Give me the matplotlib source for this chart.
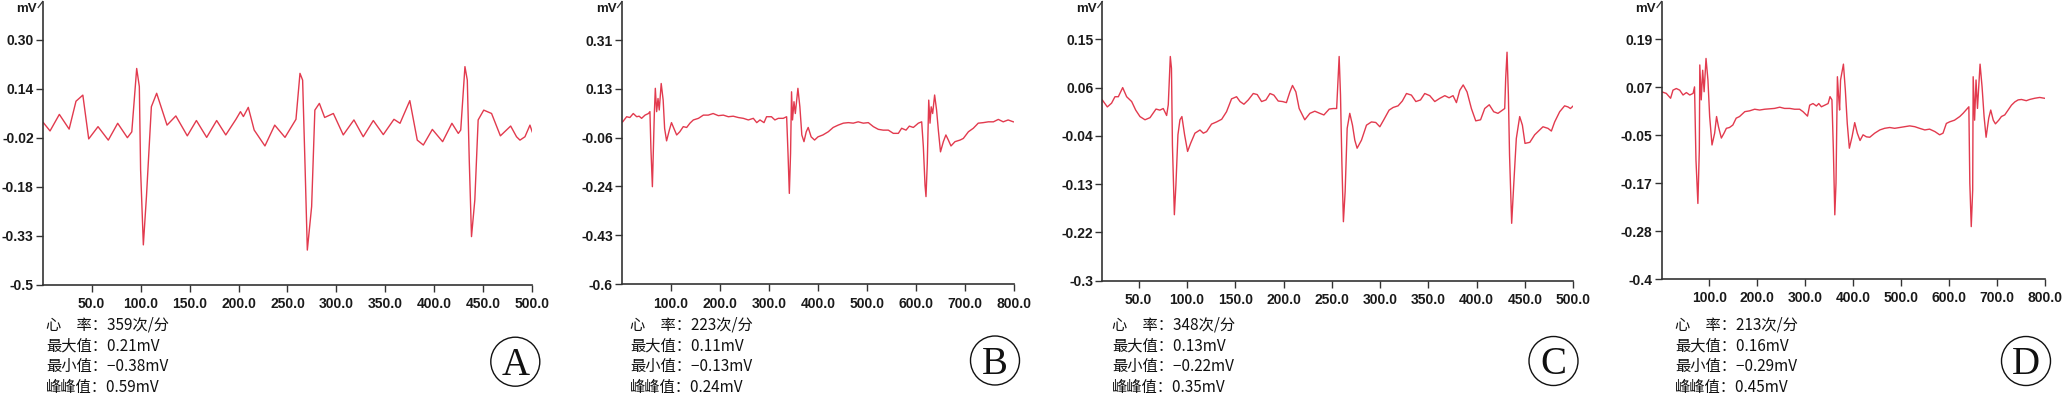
import matplotlib
matplotlib.use("Agg")
import matplotlib.pyplot as plt
import numpy as np
from matplotlib.lines import Line2D
from matplotlib.patches import Ellipse

W, H = 2062, 397
LINE_COLOR = '#e23a4e'
AXIS_COLOR = '#333333'

# ---- panel A ----
A_X = [0.7, 7.5, 17, 27, 34, 41, 47, 56.5, 67, 76.6, 86.5, 91, 96, 98.7, 100, 102.8, 106, 111,
       116.4, 127, 136, 147.7, 157, 167.5, 177.7, 187, 197.4, 202, 205, 210, 216, 227, 237, 247.5,
       258.7, 262.8, 265.5, 268, 270.3, 274.7, 278, 282.6, 288, 296.9, 307, 317.9, 327.4, 337.7,
       347.9, 358.8, 365, 375, 382.6, 388.8, 398, 408.5, 418, 424.5, 427, 431.3, 433.7, 435.7, 438,
       441.4, 444.8, 450.5, 458.5, 467.5, 478, 484, 487.5, 492.6, 497.7, 500]
A_Y = [0.03, 0.003, 0.057, 0.009, 0.10, 0.12, -0.023, 0.017, -0.027, 0.028, -0.019, 0.0, 0.207,
       0.148, -0.124, -0.369, -0.21, 0.082, 0.126, 0.022, 0.052, -0.013, 0.037, -0.018, 0.037,
       -0.01, 0.041, 0.066, 0.05, 0.08, 0.006, -0.046, 0.022, -0.018, 0.041, 0.191, 0.169, -0.114,
       -0.386, -0.244, 0.071, 0.093, 0.047, 0.06, -0.01, 0.039, -0.016, 0.037, -0.009, 0.041, 0.028,
       0.102, -0.027, -0.043, 0.008, -0.032, 0.028, -0.005, 0.006, 0.213, 0.169, -0.092, -0.342,
       -0.222, 0.039, 0.071, 0.06, -0.013, 0.019, -0.016, -0.027, -0.016, 0.022, 0.0]

# ---- panel B ----
B_X = [1.4, 9.5, 16, 23, 30, 35, 40, 47, 54, 57, 59, 62, 64, 66, 68, 70.7, 73.5, 76, 80, 84, 87,
       91, 96.6, 101, 106, 111.6, 118, 125, 132, 138.7, 145.6, 156, 166, 176, 186, 196.6, 206.8,
       217, 227, 237.4, 247.6, 257.8, 268, 275, 281.6, 289.8, 295, 305, 312, 319, 329, 336, 338.8,
       341.5, 344, 346, 348, 351, 353.7, 359, 363, 367, 371.4, 376, 380, 386, 393, 400, 410, 421,
       431, 441.5, 451.7, 462, 472, 482, 492.5, 502.7, 513, 523, 533, 543.5, 553.7, 564, 570.7,
       579.6, 586.4, 594.6, 604.8, 611.6, 615, 618.4, 620.4, 623, 626, 628.6, 631, 634, 638, 642,
       645.6, 650, 655.8, 661, 666, 671.4, 679.6, 690, 696.6, 707, 717, 727, 737.4, 747.6, 758,
       768, 778, 788, 798.6]
B_Y = [0.005, 0.024, 0.021, 0.036, 0.024, 0.026, 0.018, 0.030, 0.036, 0.043, -0.094, -0.237,
       -0.10, 0.036, 0.13, 0.043, 0.092, 0.049, 0.148, 0.086, -0.02, -0.066, -0.026, 0.002, -0.02,
       -0.044, -0.032, -0.013, -0.016, 0.0, 0.012, 0.018, 0.030, 0.030, 0.036, 0.028, 0.030, 0.024,
       0.026, 0.021, 0.018, 0.012, 0.018, 0.002, 0.012, 0.002, 0.024, 0.024, 0.012, 0.018, 0.018,
       0.024, -0.113, -0.262, -0.113, 0.117, 0.012, 0.08, 0.036, 0.13, 0.061, -0.044, -0.069,
       -0.032, -0.016, -0.051, -0.063, -0.051, -0.044, -0.032, -0.016, -0.007, 0.0, 0.002, 0.0,
       0.005, 0.0, 0.002, -0.013, -0.023, -0.026, -0.026, -0.038, -0.038, -0.019, -0.026, -0.011,
       -0.016, 0.0, 0.005, -0.088, -0.231, -0.274, -0.15, 0.086, 0.0, 0.061, 0.036, 0.105, 0.049,
       -0.026, -0.107, -0.069, -0.044, -0.063, -0.085, -0.069, -0.063, -0.057, -0.032, -0.019, 0.0,
       0.002, 0.005, 0.005, 0.014, 0.005, 0.012, 0.005]

# ---- panel C ----
C_X = [12.4, 17.6, 22, 25.5, 29, 33.5, 37.6, 42.8, 47, 51.4, 56.6, 61.8, 68, 72, 75.5, 79, 80.7,
       82.8, 84, 85, 87, 88.6, 90.7, 92.8, 94.8, 97.6, 100.7, 103.8, 108.3, 113.5, 117, 120.4,
       125.5, 130.7, 136, 141, 146.2, 151.4, 155, 159, 163.5, 168.7, 172.8, 177.3, 181.8, 186, 190,
       194.5, 199, 203, 206.6, 209.3, 212.8, 216.2, 222, 227.3, 232.4, 237.6, 241.8, 247.3, 251.4,
       255, 256.2, 257.6, 259, 260.4, 262, 263.8, 265.9, 268.6, 271.4, 273.8, 276.2, 280.7, 285.9,
       291, 295.5, 299.7, 303.8, 309.3, 313.5, 318.6, 323, 327.3, 332.4, 337, 341.8, 346.2, 351.4,
       356.6, 361.8, 367, 371.4, 375.5, 379, 382.5, 386, 390, 394.5, 399, 404, 408.3, 413, 417.6,
       422, 426.6, 429, 430, 431.4, 432.8, 434, 436.2, 438.3, 441, 444.5, 447.3, 450, 455, 460,
       465.2, 468.6, 473.8, 477.3, 480.7, 485.9, 491, 494.5, 497, 500]
C_Y = [0.037, 0.024, 0.031, 0.043, 0.043, 0.060, 0.043, 0.034, 0.018, 0.006, 0.0, 0.004, 0.020,
       0.018, 0.021, 0.008, 0.028, 0.118, 0.096, -0.047, -0.177, -0.122, -0.028, 0.0, 0.006,
       -0.028, -0.059, -0.044, -0.025, -0.019, -0.025, -0.022, -0.008, -0.004, 0.001, 0.015, 0.039,
       0.043, 0.034, 0.029, 0.037, 0.049, 0.047, 0.034, 0.037, 0.049, 0.046, 0.035, 0.034, 0.032,
       0.052, 0.064, 0.052, 0.021, 0.0, 0.012, 0.016, 0.012, 0.009, 0.020, 0.021, 0.021, 0.065,
       0.118, 0.046, -0.078, -0.190, -0.134, -0.016, 0.012, -0.010, -0.038, -0.053, -0.038,
       -0.010, -0.004, -0.005, -0.013, 0.0, 0.018, 0.023, 0.026, 0.035, 0.049, 0.046, 0.034, 0.037,
       0.049, 0.045, 0.034, 0.040, 0.045, 0.041, 0.045, 0.032, 0.055, 0.065, 0.052, 0.021, -0.002,
       0.0, 0.021, 0.028, 0.015, 0.012, 0.018, 0.021, 0.077, 0.126, 0.046, -0.066, -0.193, -0.122,
       -0.035, 0.006, -0.010, -0.044, -0.042, -0.028, -0.019, -0.013, -0.016, -0.021, -0.004,
       0.015, 0.026, 0.024, 0.021, 0.026]

# ---- panel D ----
D_X = [0, 10, 19, 24, 31, 38, 45, 52, 59, 66, 69, 72, 76, 79, 80, 83, 86, 89, 93, 97, 100.6,
       105.5, 111, 115, 119, 125, 130.6, 135.5, 142, 149, 156, 163, 174, 184, 194.6, 205, 215.5,
       226, 236, 247, 257, 268, 278, 288.6, 295.6, 305, 309.5, 316.5, 323.5, 328.5, 334, 341, 348,
       352, 356, 359, 362, 364.5, 367.4, 370, 372, 374, 380, 384, 388, 392.4, 398, 403.6, 409,
       414.7, 421, 428, 435, 445.3, 456, 466, 476.7, 487, 497.6, 508, 518.5, 529, 539, 550, 560,
       571, 581, 588, 595, 602, 612, 623, 630, 639, 642, 644, 647, 650, 651, 654, 657, 660, 665.4,
       669.6, 673.8, 678, 683.5, 687.7, 693, 697.5, 704.4, 710, 717, 724, 731, 738, 745, 752, 762,
       769, 779.6, 790, 800]
D_Y = [0.061, 0.057, 0.045, 0.065, 0.069, 0.065, 0.053, 0.059, 0.053, 0.057, 0.073, -0.107,
       -0.214, -0.082, 0.127, 0.041, 0.114, 0.061, 0.143, 0.090, 0.0, -0.07, -0.041, 0.0, -0.025,
       -0.053, -0.041, -0.029, -0.027, -0.021, -0.004, 0.0, 0.012, 0.014, 0.018, 0.016, 0.018,
       0.019, 0.020, 0.023, 0.020, 0.020, 0.018, 0.018, 0.012, 0.001, 0.028, 0.032, 0.026, 0.032,
       0.024, 0.028, 0.032, 0.049, 0.041, -0.082, -0.242, -0.164, 0.098, 0.049, 0.016, 0.090,
       0.129, 0.065, -0.017, -0.078, -0.050, -0.015, -0.041, -0.059, -0.045, -0.050, -0.051,
       -0.041, -0.033, -0.029, -0.027, -0.029, -0.027, -0.025, -0.023, -0.025, -0.029, -0.033,
       -0.031, -0.037, -0.045, -0.041, -0.017, -0.013, -0.009, 0.0, 0.008, 0.020, 0.024, -0.164,
       -0.271, -0.181, 0.098, -0.009, 0.090, 0.020, 0.129, 0.073, 0.0, -0.051, -0.004, 0.016,
       -0.009, -0.018, -0.009, 0.0, 0.004, 0.016, 0.028, 0.036, 0.041, 0.042, 0.039, 0.042, 0.045,
       0.047, 0.045]

# tick labels as printed by the device software (bottom -> top)
A_YLABELS = ['-0.5', '-0.33', '-0.18', '-0.02', '0.14', '0.30']
B_YLABELS = ['-0.6', '-0.43', '-0.24', '-0.06', '0.13', '0.31']
C_YLABELS = ['-0.3', '-0.22', '-0.13', '-0.04', '0.06', '0.15']
D_YLABELS = ['-0.4', '-0.28', '-0.17', '-0.05', '0.07', '0.19']

A_XTICKS = [50, 100, 150, 200, 250, 300, 350, 400, 450, 500]
B_XTICKS = [100, 200, 300, 400, 500, 600, 700, 800]

# stats printed under each trace
A_STATS = ['心\u3000率：359次/分', '最大值：0.21mV', '最小值：\u22120.38mV', '峰峰值：0.59mV']
B_STATS = ['心\u3000率：223次/分', '最大值：0.11mV', '最小值：\u22120.13mV', '峰峰值：0.24mV']
C_STATS = ['心\u3000率：348次/分', '最大值：0.13mV', '最小值：\u22120.22mV', '峰峰值：0.35mV']
D_STATS = ['心\u3000率：213次/分', '最大值：0.16mV', '最小值：\u22120.29mV', '峰峰值：0.45mV']

PANEL_LETTERS = ['A', 'B', 'C', 'D']

# layout in pixels: left, right, top, bottom, xlim, ylim, lowest/highest y tick
PANELS = [
    dict(box=(42.7, 532.2, 2, 285), xlim=(0, 500), ylim=(-0.5, 0.424), yt=(-0.5, 0.30),
         x=A_X, y=A_Y, ylab=A_YLABELS, xt=A_XTICKS, stats=A_STATS, tx=46, circ=(515.3, 361.7)),
    dict(box=(622, 1014, 2, 284), xlim=(0, 800), ylim=(-0.6, 0.452), yt=(-0.6, 0.31),
         x=B_X, y=B_Y, ylab=B_YLABELS, xt=B_XTICKS, stats=B_STATS, tx=630, circ=(995, 360.5)),
    dict(box=(1102.3, 1573.3, 2, 280.7), xlim=(12.4, 500), ylim=(-0.3, 0.2196), yt=(-0.3, 0.15),
         x=C_X, y=C_Y, ylab=C_YLABELS, xt=A_XTICKS, stats=C_STATS, tx=1112, circ=(1553.5, 361)),
    dict(box=(1661.5, 2044.5, 2, 279), xlim=(0, 800), ylim=(-0.4, 0.282), yt=(-0.4, 0.19),
         x=D_X, y=D_Y, ylab=D_YLABELS, xt=B_XTICKS, stats=D_STATS, tx=1675, circ=(2026, 361)),
]

TICK_FONT = dict(family='Liberation Sans', weight='bold', size=10)
CJK = ['Noto Sans CJK SC', 'DejaVu Sans']


def fx(px):
    return px / W


def fy(py):
    # pixel rows counted from the top
    return 1 - py / H


fig = plt.figure(figsize=(W / 100, H / 100), dpi=100)

for p, letter in zip(PANELS, PANEL_LETTERS):
    left, right, top, bottom = p['box']
    ax = fig.add_axes([fx(left), fy(bottom), (right - left) / W, (bottom - top) / H])
    ax.plot(p['x'], p['y'], color=LINE_COLOR, lw=1.0)
    ax.set_xlim(*p['xlim'])
    ax.set_ylim(*p['ylim'])

    for side in ('top', 'right'):
        ax.spines[side].set_visible(False)
    for side in ('left', 'bottom'):
        ax.spines[side].set_color(AXIS_COLOR)
        ax.spines[side].set_linewidth(1.2)

    ax.set_yticks(np.linspace(p['yt'][0], p['yt'][1], 6))
    ax.set_yticklabels(p['ylab'], fontdict=TICK_FONT)
    ax.set_xticks(p['xt'])
    ax.set_xticklabels([f'{v:.1f}' for v in p['xt']], fontdict=TICK_FONT)
    ax.tick_params(axis='both', direction='out', length=5, width=1, color=AXIS_COLOR,
                   labelcolor='#1a1a1a')
    ax.tick_params(axis='y', pad=1.5)
    ax.tick_params(axis='x', pad=4)

    # unit label and small slash at the top of the y axis
    fig.text(fx(left - 5.5), fy(9.5), 'mV', ha='right', va='center', color='#1a1a1a',
             family='Liberation Sans', weight='bold', size=9.5)
    fig.add_artist(Line2D([fx(left), fx(left - 4.5)], [fy(1.5), fy(7.5)],
                          color=AXIS_COLOR, lw=0.9))

    # stats block
    for i, line in enumerate(p['stats']):
        fig.text(fx(p['tx']), fy(325 + i * 20.7), line, ha='left', va='center',
                 family=CJK, size=11, color='#111111')

    # circled panel letter
    cx, cy = p['circ']
    fig.add_artist(Ellipse((fx(cx), fy(cy)), 49 / W, 49 / H, transform=fig.transFigure,
                           fill=False, edgecolor='#111111', lw=1.0))
    fig.text(fx(cx), fy(cy + 13), letter, ha='center', va='baseline',
             family='Liberation Serif', size=28, color='#111111')

fig.savefig('out.png', dpi=100)
